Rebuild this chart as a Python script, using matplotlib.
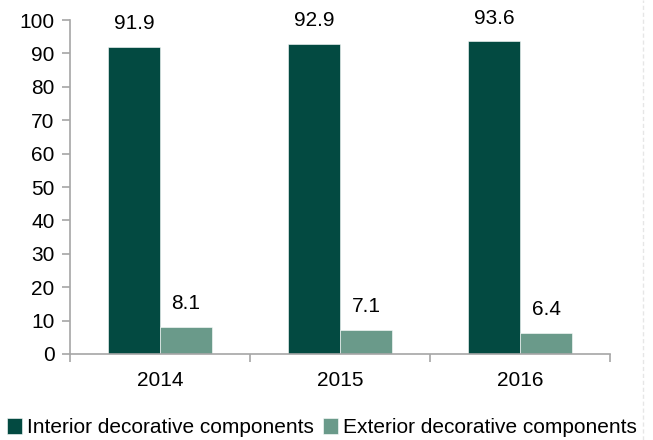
import matplotlib
matplotlib.use("Agg")
import matplotlib.pyplot as plt
import numpy as np
from matplotlib.lines import Line2D

plt.rcParams["font.family"] = ["Liberation Sans", "DejaVu Sans"]

years = ["2014", "2015", "2016"]
interior = [91.9, 92.9, 93.6]
exterior = [8.1, 7.1, 6.4]
series_names = ["Interior decorative components", "Exterior decorative components"]

DARK = "#034a41"
LIGHT = "#6a9a8a"
AXIS = "#a6a6a6"
FS = 15


def bar_plot():
    fig = plt.figure(figsize=(6.53, 4.40), dpi=100)
    ax = fig.add_axes([0.1072, 0.1955, 0.8270, 0.7590])

    x = np.arange(len(years))
    width = 0.289
    b1 = ax.bar(x - width / 2, interior, width, color=DARK, label=series_names[0],
                edgecolor="white", linewidth=0.4)
    b2 = ax.bar(x + width / 2, exterior, width, color=LIGHT, label=series_names[1],
                edgecolor="white", linewidth=0.4)

    for bars, vals in ((b1, interior), (b2, exterior)):
        for rect, v in zip(bars, vals):
            ax.annotate(f"{v:.1f}", (rect.get_x() + rect.get_width() / 2, v),
                        xytext=(0, 10), textcoords="offset points",
                        ha="center", va="bottom", fontsize=FS)

    ax.set_xlim(-0.5, len(years) - 0.5)
    ax.set_ylim(0, 100)
    ax.set_yticks(range(0, 101, 10))
    ax.set_xticks(x)
    ax.set_xticklabels(years)
    # category separators on the x axis
    ax.set_xticks(np.arange(-0.5, len(years), 1.0), minor=True)
    ax.tick_params(axis="x", which="major", length=0, pad=12, labelsize=FS)
    ax.tick_params(axis="x", which="minor", length=6, color=AXIS, width=1.2)
    ax.tick_params(axis="y", length=6, color=AXIS, width=1.2, labelsize=FS, pad=5)

    for side in ("top", "right"):
        ax.spines[side].set_visible(False)
    for side in ("left", "bottom"):
        ax.spines[side].set_color(AXIS)
        ax.spines[side].set_linewidth(1.2)

    fig.legend(handles=[b1, b2], loc="center", bbox_to_anchor=(0.493, 0.028),
               ncol=2, frameon=False, fontsize=FS, handlelength=0.75,
               handleheight=0.75, handletextpad=0.25, columnspacing=0.4)

    fig.add_artist(Line2D([0.984, 0.984], [0, 1], transform=fig.transFigure,
                          color="#e6e6e6", linewidth=1, linestyle=(0, (3, 2))))
    return fig


fig = bar_plot()
fig.savefig("out.png", dpi=100)
